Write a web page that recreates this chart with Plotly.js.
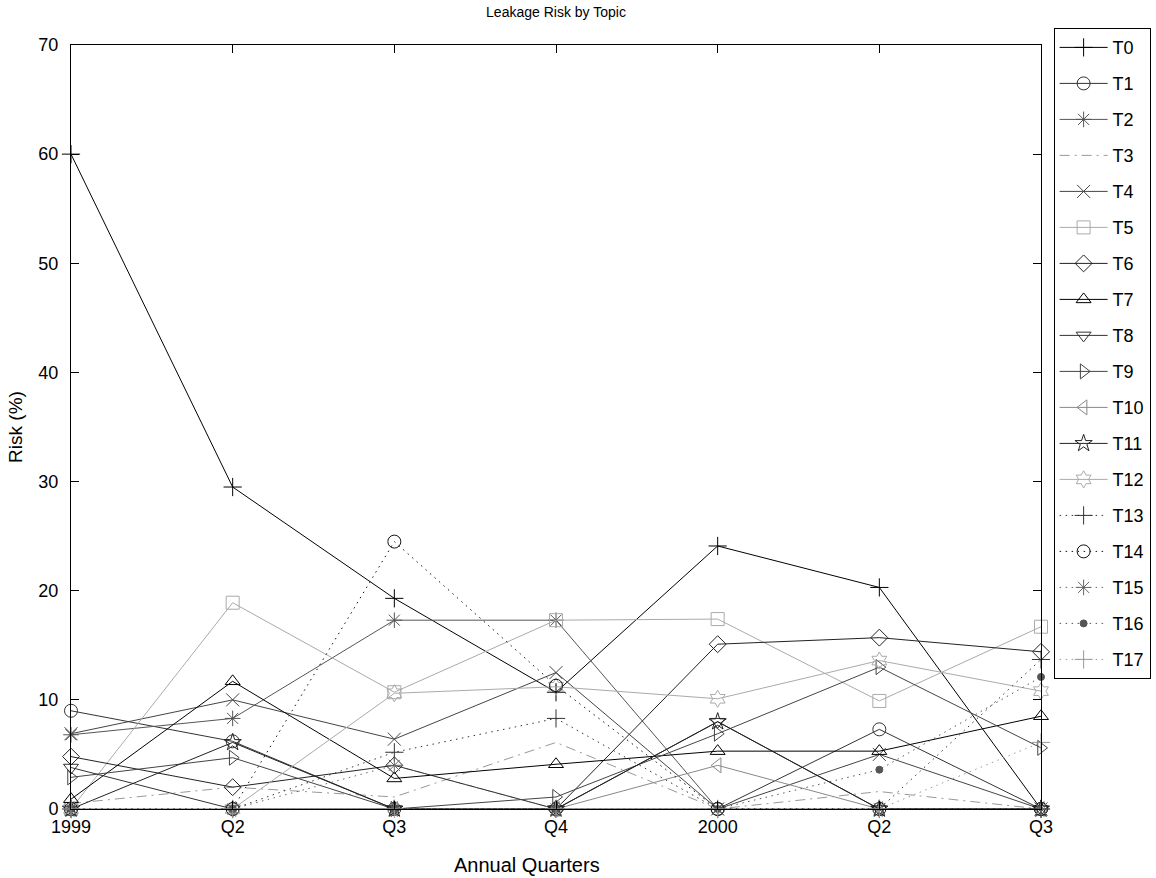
<!DOCTYPE html>
<html>
<head>
<meta charset="utf-8">
<script src="https://cdn.plot.ly/plotly-3.0.1.min.js"></script>
<style>html,body{margin:0;padding:0;background:#fff;}#chart{width:1156px;height:878px;}</style>
</head>
<body>
<div id="chart"></div>
<script>
const quarters = ["1999", "Q2", "Q3", "Q4", "2000", "Q2", "Q3"];
const topicNames = ["T0","T1","T2","T3","T4","T5","T6","T7","T8","T9","T10","T11","T12","T13","T14","T15","T16","T17"];

const T0  = [60.0, 29.5, 19.3, 10.7, 24.1, 20.3, 0.0];
const T1  = [9.0, 6.2, 0.0, 0.0, 0.0, 7.3, 0.0];
const T2  = [6.8, 8.3, 17.3, 17.3, 0.0, 0.0, 0.0];
const T3  = [0.5, 2.0, 1.1, 6.1, 0.0, 1.6, 0.0];
const T4  = [6.9, 10.0, 6.4, 12.5, 0.0, 5.0, 0.0];
const T5  = [0.0, 18.9, 10.7, 17.3, 17.4, 9.9, 16.7];
const T6  = [4.8, 2.0, 4.0, 0.0, 15.1, 15.7, 14.4];
const T7  = [0.9, 11.7, 2.8, 4.1, 5.3, 5.3, 8.5];
const T8  = [3.8, 0.0, 0.0, 0.0, 8.0, 0.0, 0.0];
const T9  = [2.9, 4.7, 0.0, 1.1, 6.9, 13.0, 5.6];
const T10 = [0.0, 0.0, 0.0, 0.0, 4.0, 0.0, 0.0];
const T11 = [0.0, 6.1, 0.0, 0.0, 8.0, 0.0, 0.0];
const T12 = [0.0, 0.0, 10.6, 11.2, 10.1, 13.6, 10.8];
const T13 = [0.0, 0.0, 5.2, 8.3, 0.0, 0.0, 13.7];
const T14 = [0.0, 0.0, 24.5, 11.3, 0.0, 0.0, 0.0];
const T15 = [0.0, 0.0, 4.0, 0.0, 0.0, 0.0, 0.0];
const T16 = [0.0, 0.0, 0.0, 0.0, 0.0, 3.6, 12.1];
const T17 = [0.0, 0.0, 0.0, 0.0, 0.0, 0.0, 6.1];

const seriesValues = [T0,T1,T2,T3,T4,T5,T6,T7,T8,T9,T10,T11,T12,T13,T14,T15,T16,T17];
const seriesColors = ["#000000","#333333","#555555","#999999","#444444","#aaaaaa","#222222","#000000","#333333","#444444","#888888","#222222","#aaaaaa","#333333","#111111","#666666","#555555","#999999"];
const seriesSymbols = ["cross-thin-open","circle-open","asterisk-open","line-ew-open","x-thin-open","square-open","diamond-open","triangle-up-open","triangle-down-open","triangle-right-open","triangle-left-open","star-open","hexagram-open","cross-thin-open","circle-open","asterisk-open","circle","cross-thin-open"];
const seriesDash = ["solid","solid","solid","10px,5px,2px,5px","solid","solid","solid","solid","solid","solid","solid","solid","solid","1.5px,4.5px","1.5px,4.5px","1.5px,4.5px","1.5px,4.5px","1.5px,4.5px"];

const xIdx = quarters.map((q, i) => i);

const traces = seriesValues.map((vals, i) => ({
  type: "scatter",
  mode: i === 3 ? "lines" : "lines+markers",
  name: topicNames[i],
  legendgroup: "g" + i,
  x: xIdx,
  y: vals,
  cliponaxis: false,
  line: {color: seriesColors[i], width: 1, dash: seriesDash[i]},
  marker: {
    symbol: seriesSymbols[i],
    size: i === 16 ? 7 : 13,
    color: seriesColors[i],
    line: {color: seriesColors[i], width: 1}
  }
}));

const layout = {
  width: 1156,
  height: 878,
  margin: {l: 71, r: 115, t: 45, b: 69, autoexpand: false},
  paper_bgcolor: "#ffffff",
  plot_bgcolor: "#ffffff",
  font: {family: "Liberation Sans, Arial, sans-serif", color: "#000000", size: 18},
  title: {
    text: "Leakage Risk by Topic",
    font: {size: 14, color: "#000000"},
    x: 0.5, xref: "paper", xanchor: "center",
    y: 1 - 12 / 878, yref: "container", yanchor: "middle"
  },
  xaxis: {
    range: [0, 6],
    tickvals: xIdx,
    ticktext: quarters,
    ticks: "inside",
    ticklen: 8,
    tickcolor: "#000000",
    showline: true,
    linecolor: "#000000",
    linewidth: 1,
    mirror: "ticks",
    showgrid: false,
    zeroline: false,
    tickfont: {size: 18},
    ticklabelstandoff: 1
  },
  yaxis: {
    range: [0, 70],
    dtick: 10,
    tick0: 0,
    ticks: "inside",
    ticklen: 8,
    tickcolor: "#000000",
    showline: true,
    linecolor: "#000000",
    linewidth: 1,
    mirror: "ticks",
    showgrid: false,
    zeroline: false,
    tickfont: {size: 18},
    ticklabelstandoff: 8,
    title: {text: "Risk (%)", font: {size: 19}, standoff: 10}
  },
  annotations: [{
    text: "Annual Quarters",
    xref: "paper", yref: "paper",
    x: (527 - 71) / 970, y: (809 - 865) / 764,
    xanchor: "center", yanchor: "middle",
    showarrow: false,
    font: {size: 20, color: "#000000"}
  }],
  legend: {
    x: 1.013, xanchor: "left",
    y: 1.022, yanchor: "top",
    bordercolor: "#000000",
    borderwidth: 1,
    bgcolor: "#ffffff",
    font: {size: 18},
    traceorder: "grouped",
    tracegroupgap: 9.6,
    itemwidth: 48,
    entrywidth: 42,
    entrywidthmode: "pixels",
    maxheight: 860
  },
  showlegend: true
};

Plotly.newPlot("chart", traces, layout, {displayModeBar: false, staticPlot: true});
</script>
</body>
</html>
